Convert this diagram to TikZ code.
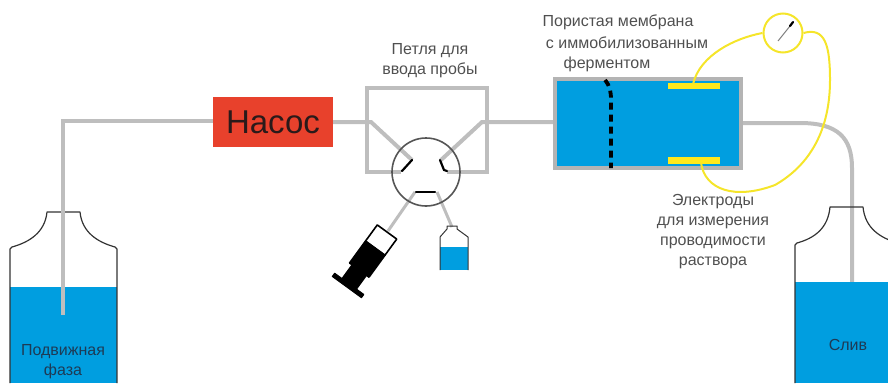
\documentclass[tikz,border=0pt]{standalone}
\usepackage{fontspec}
\setmainfont{Liberation Sans}
\begin{document}
\begin{tikzpicture}[x=1pt,y=-1pt,
  tube/.style={draw=tubegray,line width=4pt},
  wire/.style={draw=wireyellow,line width=2pt},
  vessel/.style={draw=outline,line width=1.2pt,line join=round},
  lbl/.style={text=labelgray,font=\fontsize{16}{20}\selectfont,inner sep=0pt,align=center},
  liqlbl/.style={text=liqtext,font=\fontsize{16}{20}\selectfont,inner sep=0pt,align=center},
  pumpbox/.style={fill=pumpred,minimum width=120pt,minimum height=50pt,inner sep=0pt,
    text=pumptext,font=\fontsize{33}{36}\selectfont},
  channel/.style={draw=black,line width=2.2pt,line cap=round}]
\definecolor{tubegray}{HTML}{BEBEBE}
\definecolor{cellgray}{HTML}{B4B4B4}
\definecolor{liquid}{HTML}{009EE0}
\definecolor{outline}{HTML}{333333}
\definecolor{wireyellow}{HTML}{F5E52A}
\definecolor{electrode}{HTML}{FFE81C}
\definecolor{labelgray}{HTML}{505050}
\definecolor{liqtext}{HTML}{1E3A55}
\definecolor{pumpred}{HTML}{E8412C}
\definecolor{pumptext}{HTML}{2A1A1A}
\definecolor{valvegray}{HTML}{555555}
\useasboundingbox (0,0) rectangle (888,383);

% ---------- reservoir with mobile phase ----------
\fill[liquid] (10,287) rectangle (117,383);
\draw[vessel] (10,383) -- (10,249) -- (12,247)
  .. controls (30,242) and (45,232) .. (47,212) -- (80,212)
  .. controls (82,232) and (97,242) .. (115,247) -- (117,249) -- (117,383);
\coordinate (feed) at (63,315);
\node[liqlbl] (mobile) at (63,362) {Подвижная\\фаза};

% ---------- pump ----------
\node[pumpbox] (pump) at (273,122) {Насос};
\draw[tube] (feed) -- (63,121) -- (pump.west |- 0,121);

% ---------- injection valve with sample loop ----------
\coordinate (valve) at (426,172);
\draw[tube] (pump.east |- 0,122) -- (371,122) -- (412,160);
\draw[tube,line join=miter] (401,172) -- (367,172) -- (367,88) -- (487,88) -- (487,172) -- (447,172);
\draw[tube] (441,160) -- (482,122) -- (553,122);
\draw[tube,line width=3pt] (415,192) -- (388,231);
\draw[tube,line width=3pt] (437,192) -- (452,227);
\draw[valvegray,line width=1.6pt] (valve) circle (34);
\draw[channel] (402,171) -- (412,160);
\draw[channel] (440,160) -- (444,170) -- (447,171);
\draw[channel] (416,192) -- (435,192);
\node[lbl] (looplbl) at (430,61) {Петля для\\ввода пробы};

% ---------- syringe (local axes: along the barrel, across it) ----------
\begin{scope}[shift={(387,232)},x={(-0.59pt,-0.81pt)},y={(0.81pt,-0.59pt)},
    line join=round]
  \filldraw[fill=white,draw=black,line width=1.6pt] (0,-12) -- (20,-12) -- (20,12) -- (0,12) -- cycle;
  \filldraw[black,line width=1.6pt] (20,-12) -- (47,-12) -- (47,12) -- (20,12) -- cycle;
  \filldraw[black,line width=1pt] (46,-9) -- (65,-9) -- (65,9) -- (46,9) -- cycle;
  \filldraw[black,line width=1pt] (64,-18) -- (68,-18) -- (68,18) -- (64,18) -- cycle;
\end{scope}

% ---------- sample vial ----------
\fill[liquid] (440,247) rectangle (468,270);
\draw[vessel,line width=1pt] (440,270) -- (440,237) -- (447,229) -- (447,226) -- (457,226)
  -- (457,229) -- (468,237) -- (468,270);

% ---------- reactor cell ----------
\fill[cellgray] (553,77) rectangle (743,170);
\fill[liquid] (557,81) rectangle (739,166);
\draw[black,line width=3.8pt,dash pattern=on 7pt off 5pt]
  (605,80) .. controls (610,86) and (611,92) .. (611,100) -- (611,168);
\fill[electrode] (668,83) rectangle (720,89);
\fill[electrode] (668,157) rectangle (720,164);
\coordinate (topel) at (693,84);
\coordinate (botel) at (701,163);
\node[lbl] (memb1) at (618,22) {Пористая мембрана};
\node[lbl] (memb2) at (627,43) {с иммобилизованным};
\node[lbl] (memb3) at (607,64) {ферментом};
\node[lbl] (elec) at (713,232) {Электроды\\для измерения\\проводимости\\раствора};

% ---------- outlet to waste ----------
\coordinate (drain) at (852,282);
\draw[tube] (743,123) -- (800,123) .. controls (838,123) and (852,138) .. (852,168) -- (drain);
\fill[liquid] (795,282) rectangle (888,383);
\draw[vessel] (795,383) -- (795,245) -- (797,243)
  .. controls (815,238) and (828,228) .. (830,207) -- (863,207)
  .. controls (865,228) and (880,238) .. (898,243);
\node[liqlbl] (waste) at (848,345) {Слив};

% ---------- conductivity meter ----------
\node[draw=wireyellow,line width=2pt,fill=white,circle,minimum size=39pt,inner sep=0pt] (meter) at (783,33) {};
\draw[wire] (topel) .. controls (700,55) and (735,38) .. (meter.west);
\draw[wire] (meter.east) .. controls (825,27) and (830,45) .. (830,80)
  .. controls (830,130) and (810,165) .. (775,185)
  .. controls (735,200) and (705,190) .. (botel);
\draw[gray,line width=1pt] (778,41) -- (790,26);
\draw[black,line width=2.2pt,line cap=round] (790,26) -- (793,22);
\end{tikzpicture}
\end{document}
